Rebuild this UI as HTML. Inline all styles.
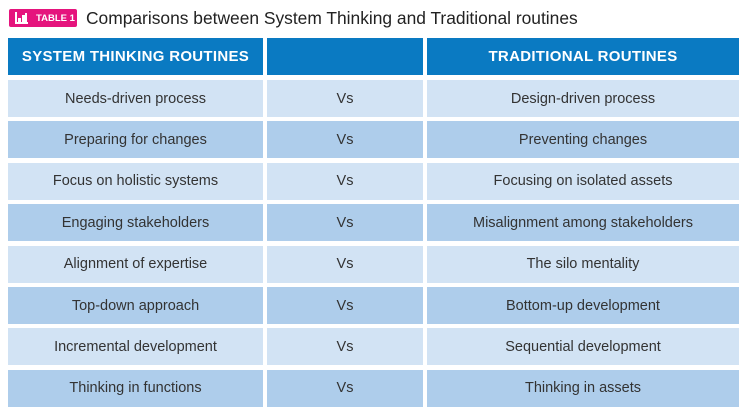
<!DOCTYPE html>
<html><head><style>
body{margin:0;width:750px;height:413px;background:#fff;font-family:"Liberation Sans",sans-serif;position:relative;overflow:hidden}
.badge{position:absolute;left:9px;top:9px;width:68px;height:18px;background:#e5147d;border-radius:2px;color:#fff;font-weight:bold;font-size:9.5px;line-height:18px;white-space:nowrap}
.badge span{position:absolute;left:27px;top:1px}
.title{position:absolute;left:86px;top:6px;font-size:17.4px;color:#222;line-height:24px;white-space:nowrap}
.c{position:absolute;display:flex;align-items:center;justify-content:center;font-size:14.5px;color:#333;white-space:nowrap}
.h{background:#0a7ac2;color:#fff;font-weight:bold;font-size:15px;letter-spacing:.3px}
.l{background:#d2e3f4}.d{background:#aecdeb}
</style></head><body>
<div class="badge"><svg style="position:absolute;left:6px;top:3px" width="13" height="12"><rect x="0" y="0" width="2" height="12" fill="#fff"/><rect x="0" y="10" width="13" height="2" fill="#fff"/><rect x="3" y="6" width="3" height="4" fill="#fff"/><rect x="7" y="3" width="3" height="7" fill="#fff"/><rect x="10" y="1" width="2" height="9" fill="#fff"/></svg><span>TABLE 1</span></div>
<div class="title">Comparisons between System Thinking and Traditional routines</div>
<div class="c h" style="left:8px;top:38px;width:255px;height:37px">SYSTEM THINKING ROUTINES</div>
<div class="c h" style="left:267px;top:38px;width:156px;height:37px"></div>
<div class="c h" style="left:427px;top:38px;width:312px;height:37px">TRADITIONAL ROUTINES</div>
<div id="rows"></div>
<script>
var r=[["Needs-driven process","Design-driven process"],["Preparing for changes","Preventing changes"],["Focus on holistic systems","Focusing on isolated assets"],["Engaging stakeholders","Misalignment among stakeholders"],["Alignment of expertise","The silo mentality"],["Top-down approach","Bottom-up development"],["Incremental development","Sequential development"],["Thinking in functions","Thinking in assets"]];
var h="";r.forEach(function(x,i){var t=80+i*41.4,k=i%2?"d":"l";
h+='<div class="c '+k+'" style="left:8px;top:'+t+'px;width:255px;height:37px">'+x[0]+'</div>';
h+='<div class="c '+k+'" style="left:267px;top:'+t+'px;width:156px;height:37px">Vs</div>';
h+='<div class="c '+k+'" style="left:427px;top:'+t+'px;width:312px;height:37px">'+x[1]+'</div>';});
document.getElementById("rows").innerHTML=h;
</script>
</body></html>
